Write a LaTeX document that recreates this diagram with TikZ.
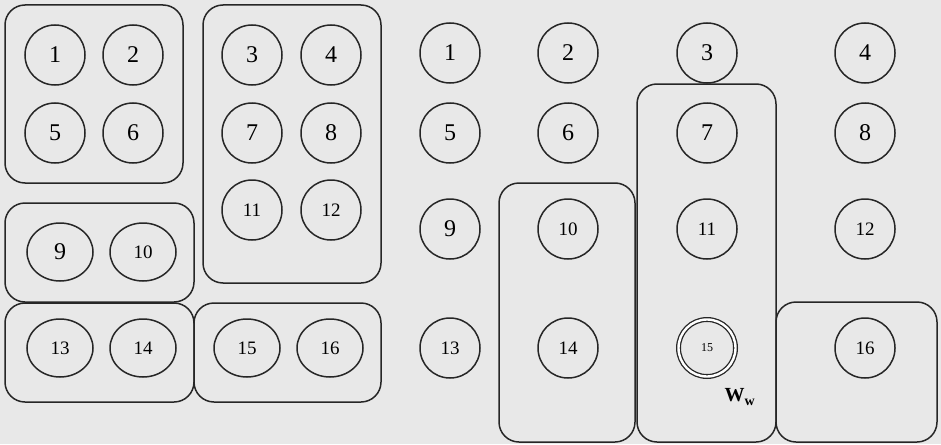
\documentclass[tikz,border=0pt]{standalone}
\usepackage{fontspec}
\setmainfont{Liberation Serif}
\usetikzlibrary{shapes.geometric}
\begin{document}
\begin{tikzpicture}[x=1pt,y=-1pt,
  cell/.style={draw=black!85, line width=1.5pt, circle, minimum size=60pt, inner sep=0pt, font=\fontsize{24}{24}\selectfont},
  cellsmall/.style={cell, font=\fontsize{19}{19}\selectfont},
  cellwide/.style={cellsmall, ellipse, minimum width=66pt, minimum height=58pt},
  group/.style={draw=black!85, line width=1.5pt, rounded corners=20pt}]

% Tlo
\fill[black!9] (0,0) rectangle (941,444);
\useasboundingbox (0,0) rectangle (941,444);

% Lewy uklad - grupy
\draw[group] (5,5) rectangle (183,183);
\draw[group] (203,5) rectangle (381,283);
\draw[group] (5,203) rectangle (194,302);
\draw[group] (5,303) rectangle (194,402);
\draw[group] (194,303) rectangle (381,402);

% Lewy uklad - pola
\node[cell] (l1) at (55,55) {1};
\node[cell] (l2) at (133,55) {2};
\node[cell] (l5) at (55,133) {5};
\node[cell] (l6) at (133,133) {6};
\node[cell] (l3) at (252,55) {3};
\node[cell] (l4) at (331,55) {4};
\node[cell] (l7) at (252,133) {7};
\node[cell] (l8) at (331,133) {8};
\node[cellsmall] (l11) at (252,210) {11};
\node[cellsmall] (l12) at (331,210) {12};
\node[cellwide, font=\fontsize{24}{24}\selectfont] (l9) at (60,252) {9};
\node[cellwide] (l10) at (143,252) {10};
\node[cellwide] (l13) at (60,348) {13};
\node[cellwide] (l14) at (143,348) {14};
\node[cellwide] (l15) at (247,348) {15};
\node[cellwide] (l16) at (330,348) {16};

% Prawy uklad - grupy
\draw[group] (499,183) rectangle (635,442);
\draw[group] (637,84) rectangle (776,442);
\draw[group] (776,302) rectangle (937,442);

% Prawy uklad - pola
\foreach \n/\x/\y in {1/450/53, 2/568/53, 3/707/53, 4/865/53,
                      5/450/133, 6/568/133, 7/707/133, 8/865/133, 9/450/229}
  \node[cell] (r\n) at (\x,\y) {\n};
\foreach \n/\x/\y in {10/568/229, 11/707/229, 12/865/229,
                      13/450/348, 14/568/348, 16/865/348}
  \node[cellsmall] (r\n) at (\x,\y) {\n};
\node[cell, double, double distance=2.4pt, line width=1.3pt, minimum size=57pt, font=\fontsize{12}{12}\selectfont] (r15) at (707,348) {15};
\node[font=\fontsize{20}{20}\selectfont\bfseries] (ww) at (740,397) {W\textsubscript{w}};

\end{tikzpicture}
\end{document}
